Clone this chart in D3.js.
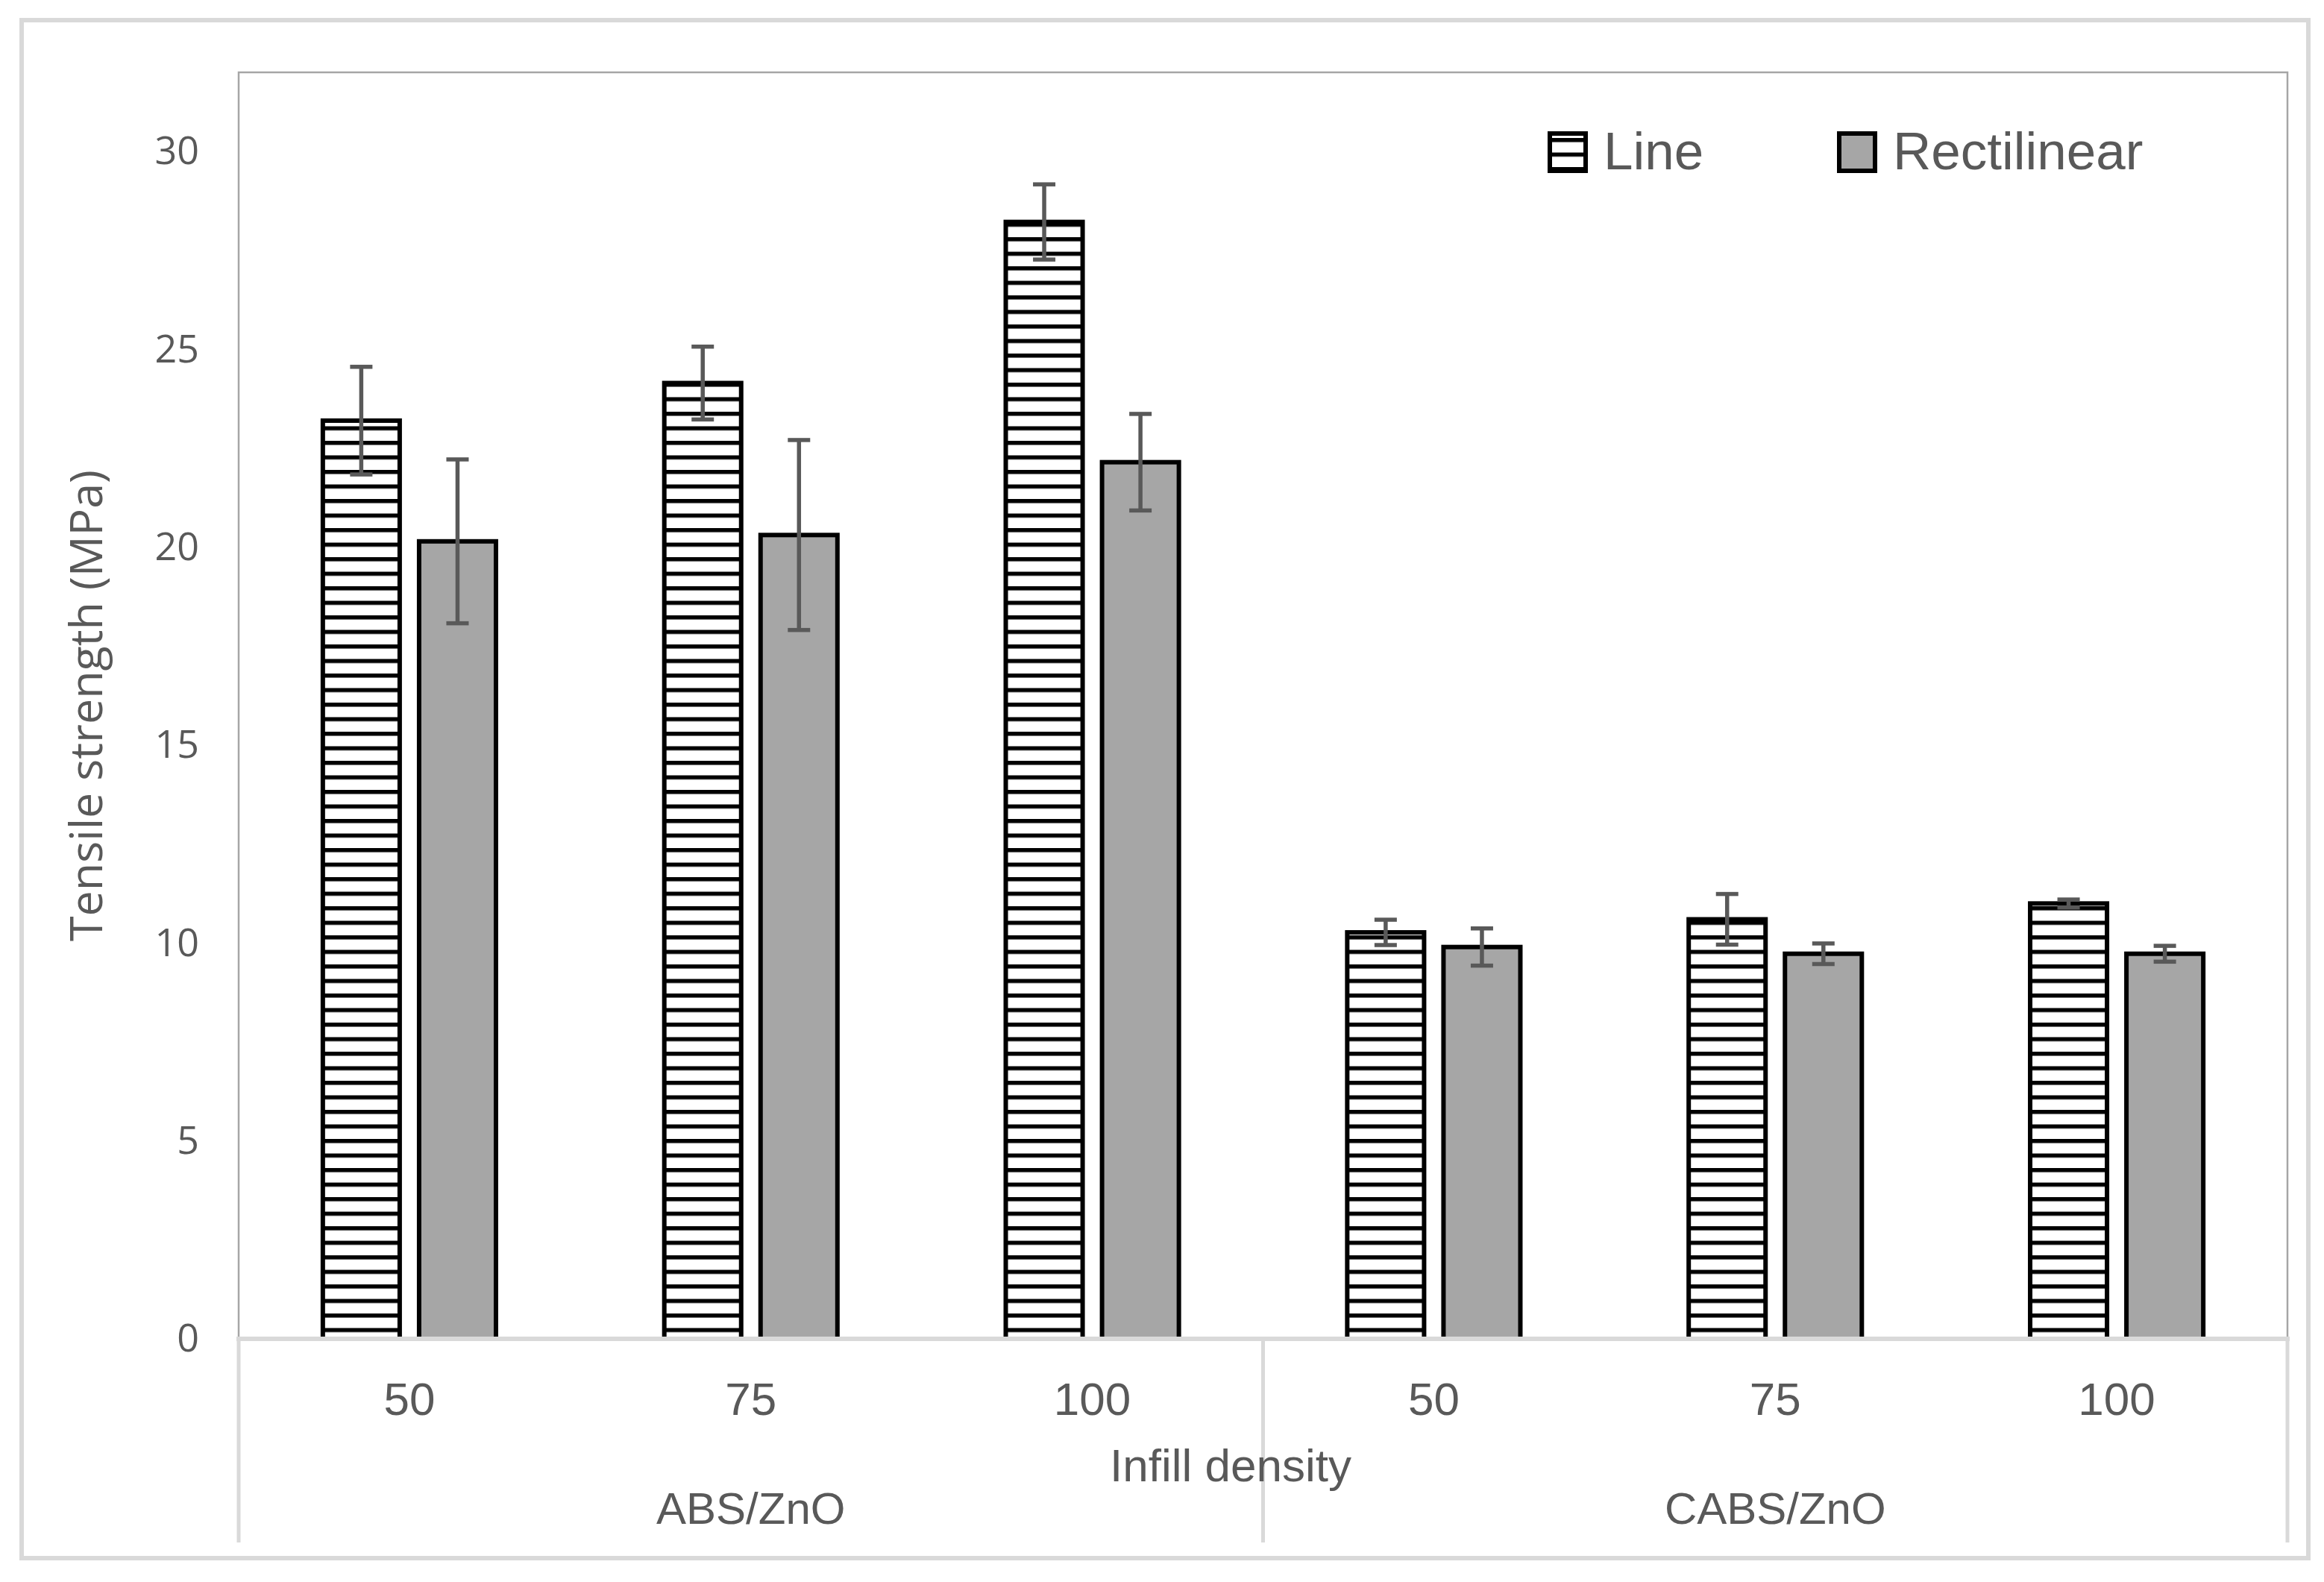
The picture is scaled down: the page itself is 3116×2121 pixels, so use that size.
<!DOCTYPE html>
<html>
<head>
<meta charset="utf-8">
<script src="https://cdn.jsdelivr.net/npm/d3@7"></script>
<style>
  body { margin: 0; background: #fff; }
  svg { display: block; }
</style>
</head>
<body>
<div id="chart"></div>
<script>
// values
const materials = ["ABS/ZnO", "ABS/ZnO", "ABS/ZnO", "CABS/ZnO", "CABS/ZnO", "CABS/ZnO"];
const densities = ["50", "75", "100", "50", "75", "100"];
const groups = ["ABS/ZnO", "CABS/ZnO"];
const series = ["Line", "Rectilinear"];
const lineMean = [23.2, 24.15, 28.22, 10.27, 10.6, 11.0];
const lineErr = [1.36, 0.92, 0.95, 0.32, 0.64, 0.1];
const rectMean = [20.15, 20.31, 22.15, 9.9, 9.73, 9.73];
const rectErr = [2.07, 2.4, 1.22, 0.47, 0.26, 0.2];
const yTicks = [0, 5, 10, 15, 20, 25, 30];

const width = 3116;
const height = 2121;
const plotLeft = 320, plotRight = 3067, plotTop = 97, plotBottom = 1795;
const textColor = "#595959";

const svg = d3.select("#chart").append("svg")
    .attr("width", width)
    .attr("height", height);

// pattern for the "Line" series: narrow horizontal stripes
const defs = svg.append("defs");
const pat = defs.append("pattern")
    .attr("id", "hstripe")
    .attr("patternUnits", "userSpaceOnUse")
    .attr("width", 20)
    .attr("height", 19.5)
    .attr("patternTransform", "translate(0,6)");
pat.append("rect").attr("width", 20).attr("height", 19.5).attr("fill", "#fff");
pat.append("rect").attr("y", 0).attr("width", 20).attr("height", 5.5).attr("fill", "#000");

// outer chart border
svg.append("rect")
    .attr("x", 29).attr("y", 27)
    .attr("width", 3095 - 29).attr("height", 2089 - 27)
    .attr("fill", "none")
    .attr("stroke", "#d9d9d9")
    .attr("stroke-width", 6);

// plot frame
svg.append("rect")
    .attr("x", plotLeft).attr("y", plotTop)
    .attr("width", plotRight - plotLeft).attr("height", plotBottom - plotTop)
    .attr("fill", "none")
    .attr("stroke", "#a6a6a6")
    .attr("stroke-width", 2.5);

// scales
const keys = densities.map((d, i) => i);
const x = d3.scaleBand()
    .domain(keys)
    .range([plotLeft, plotRight])
    .paddingInner(0.493)
    .paddingOuter(0.2465);
const xs = d3.scaleBand()
    .domain(series)
    .range([0, x.bandwidth()])
    .paddingInner(0.2016);
const y = d3.scaleLinear()
    .domain([0, 32])
    .range([plotBottom, plotTop]);
const fill = d3.scaleOrdinal().domain(series).range(["url(#hstripe)", "#a6a6a6"]);

const rows = keys.map(i => ({
    i,
    vals: [
        { s: "Line", v: lineMean[i], e: lineErr[i] },
        { s: "Rectilinear", v: rectMean[i], e: rectErr[i] }
    ]
}));

// y axis
const yAxis = svg.append("g")
    .attr("transform", `translate(${plotLeft},0)`)
    .call(d3.axisLeft(y).tickValues(yTicks).tickSize(0).tickPadding(53));
yAxis.select(".domain").remove();
yAxis.selectAll("text")
    .attr("font-family", "'Open Sans', sans-serif")
    .attr("font-size", 52)
    .attr("fill", textColor);

svg.append("text")
    .attr("transform", `translate(113,${(plotTop + plotBottom) / 2}) rotate(-90)`)
    .attr("text-anchor", "middle")
    .attr("dominant-baseline", "central")
    .attr("font-family", "'Open Sans', sans-serif")
    .attr("font-size", 61)
    .attr("fill", textColor)
    .text("Tensile strength (MPa)");

// bars
const grp = svg.append("g").selectAll("g")
    .data(rows)
    .join("g")
    .attr("transform", d => `translate(${x(d.i)},0)`);

grp.selectAll("rect")
    .data(d => d.vals)
    .join("rect")
    .attr("x", d => xs(d.s))
    .attr("y", d => y(d.v))
    .attr("width", xs.bandwidth())
    .attr("height", d => y(0) - y(d.v))
    .attr("fill", d => fill(d.s))
    .attr("stroke", "#000")
    .attr("stroke-width", 6);

// error bars
const eb = grp.selectAll("g.err")
    .data(d => d.vals)
    .join("g")
    .attr("class", "err")
    .attr("stroke", "#595959")
    .attr("stroke-width", 5.5);
eb.append("line")
    .attr("x1", d => xs(d.s) + xs.bandwidth() / 2)
    .attr("x2", d => xs(d.s) + xs.bandwidth() / 2)
    .attr("y1", d => y(d.v + d.e))
    .attr("y2", d => y(d.v - d.e));
eb.selectAll("line.cap")
    .data(d => [d.v + d.e, d.v - d.e].map(v => ({ s: d.s, v })))
    .join("line")
    .attr("class", "cap")
    .attr("x1", d => xs(d.s) + xs.bandwidth() / 2 - 15)
    .attr("x2", d => xs(d.s) + xs.bandwidth() / 2 + 15)
    .attr("y1", d => y(d.v))
    .attr("y2", d => y(d.v));

// category table below the axis
const tableBottom = 2068;
svg.append("line")
    .attr("x1", plotLeft - 3).attr("x2", plotRight + 3)
    .attr("y1", plotBottom).attr("y2", plotBottom)
    .attr("stroke", "#d9d9d9").attr("stroke-width", 6);
const groupEdges = [plotLeft, x(3) - x.step() * x.paddingInner() / 2, plotRight];
svg.append("g").selectAll("line")
    .data(groupEdges)
    .join("line")
    .attr("x1", d => d).attr("x2", d => d)
    .attr("y1", plotBottom).attr("y2", tableBottom)
    .attr("stroke", "#d9d9d9").attr("stroke-width", 5);

const xAxis = svg.append("g")
    .attr("transform", `translate(0,${plotBottom})`)
    .call(d3.axisBottom(x).tickSize(0).tickPadding(58).tickFormat(i => densities[i]));
xAxis.select(".domain").remove();
xAxis.selectAll("text")
    .attr("font-family", "'Liberation Sans', Arial, sans-serif")
    .attr("font-size", 62)
    .attr("fill", textColor);

svg.append("text")
    .attr("x", 1650).attr("y", 1986)
    .attr("text-anchor", "middle")
    .attr("font-family", "'Liberation Sans', Arial, sans-serif")
    .attr("font-size", 62)
    .attr("fill", textColor)
    .text("Infill density");

svg.append("g").selectAll("text")
    .data(groups)
    .join("text")
    .attr("x", (g, k) => (groupEdges[k] + groupEdges[k + 1]) / 2)
    .attr("y", 2043)
    .attr("text-anchor", "middle")
    .attr("font-family", "'Liberation Sans', Arial, sans-serif")
    .attr("font-size", 60)
    .attr("fill", textColor)
    .text(g => g);

// legend
const legendX = [2078, 2466];
const legend = svg.append("g").selectAll("g")
    .data(series)
    .join("g")
    .attr("transform", (s, k) => `translate(${legendX[k]},179)`);
legend.append("rect")
    .attr("width", 48).attr("height", 50)
    .attr("fill", s => fill(s))
    .attr("stroke", "#000")
    .attr("stroke-width", 6);
legend.append("text")
    .attr("x", 72).attr("y", 48)
    .attr("font-family", "'Liberation Sans', Arial, sans-serif")
    .attr("font-size", 71)
    .attr("fill", textColor)
    .text(s => s);
</script>
</body>
</html>
